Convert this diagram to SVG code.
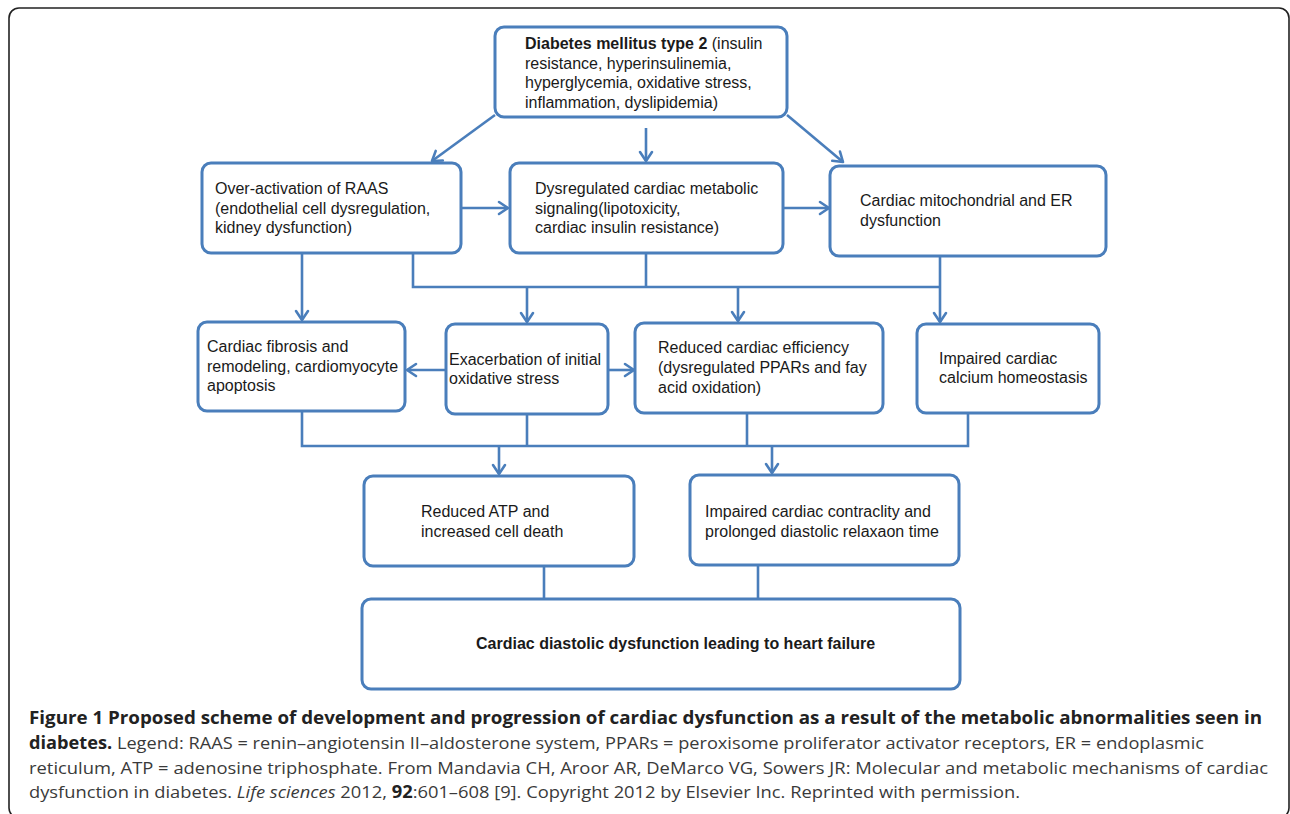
<svg xmlns="http://www.w3.org/2000/svg" width="1290" height="814" viewBox="0 0 1290 814">
<defs>
<style>
.box{fill:#fff;stroke:#4a7ebb;stroke-width:3}
.ln{fill:none;stroke:#4a7ebb;stroke-width:2.6}
.faint{fill:none;stroke:#dde8f5;stroke-width:2.6}
.t{font-family:"Liberation Sans",Arial,sans-serif;font-size:16px;fill:#1a1a1a}
.b{font-weight:bold}
.cap{font-family:"Open Sans","Liberation Sans",sans-serif;font-size:17px;fill:#3a3a3a}
.capb{font-weight:bold;fill:#222}
</style>
<marker id="ah" markerUnits="userSpaceOnUse" viewBox="0 0 16 16" markerWidth="16" markerHeight="16" refX="14" refY="8" orient="auto">
<path d="M5,2 L14,8 L5,14" fill="none" stroke="#4a7ebb" stroke-width="2.6" stroke-linecap="round" stroke-linejoin="round"/>
</marker>
<marker id="ahf" markerUnits="userSpaceOnUse" viewBox="0 0 16 16" markerWidth="16" markerHeight="16" refX="14" refY="8" orient="auto">
<path d="M5,2 L14,8 L5,14" fill="none" stroke="#dde8f5" stroke-width="2.6" stroke-linecap="round" stroke-linejoin="round"/>
</marker>
</defs>
<rect width="1290" height="814" fill="#fff"/>
<rect x="9" y="8" width="1280" height="810" rx="10" fill="none" stroke="#222" stroke-width="1.6"/>

<g id="connectors">
<line class="ln" x1="495" y1="115" x2="432" y2="161" marker-end="url(#ah)"/>
<line class="ln" x1="646" y1="128" x2="646" y2="161" marker-end="url(#ah)"/>
<line class="ln" x1="787" y1="115" x2="843" y2="162" marker-end="url(#ah)"/>
<line class="ln" x1="461" y1="208" x2="508" y2="208" marker-end="url(#ah)"/>
<line class="ln" x1="783" y1="208" x2="829" y2="208" marker-end="url(#ah)"/>
<line class="ln" x1="302" y1="253" x2="302" y2="320" marker-end="url(#ah)"/>
<polyline class="ln" points="413,254 413,287 940,287"/>
<line class="ln" x1="646" y1="253" x2="646" y2="287"/>
<line class="ln" x1="940" y1="256" x2="940" y2="322" marker-end="url(#ah)"/>
<line class="ln" x1="527" y1="287" x2="527" y2="322" marker-end="url(#ah)"/>
<line class="ln" x1="738" y1="287" x2="738" y2="321" marker-end="url(#ah)"/>
<line class="ln" x1="446" y1="370" x2="407" y2="370" marker-end="url(#ah)"/>
<line class="ln" x1="608" y1="370" x2="634" y2="370" marker-end="url(#ah)"/>
<polyline class="ln" points="302,411 302,446 968,446 968,413"/>
<line class="ln" x1="527" y1="414" x2="527" y2="446"/>
<line class="ln" x1="747" y1="413" x2="747" y2="446"/>
<line class="ln" x1="499" y1="446" x2="499" y2="474" marker-end="url(#ah)"/>
<line class="ln" x1="772" y1="446" x2="772" y2="473" marker-end="url(#ah)"/>
<line class="ln" x1="544" y1="566" x2="544" y2="599"/>
<line class="ln" x1="758" y1="565" x2="758" y2="599"/>
<line class="faint" x1="544" y1="601" x2="544" y2="635" marker-end="url(#ahf)"/>
<line class="faint" x1="758" y1="601" x2="758" y2="635" marker-end="url(#ahf)"/>
</g>

<g id="n-diabetes">
<rect class="box" x="495" y="27" width="292" height="90" rx="9"/>
<text class="t" x="525" y="49"><tspan class="b">Diabetes mellitus type 2</tspan> (insulin</text>
<text class="t" x="525" y="69">resistance, hyperinsulinemia,</text>
<text class="t" x="525" y="88">hyperglycemia, oxidative stress,</text>
<text class="t" x="525" y="108">inflammation, dyslipidemia)</text>
</g>

<g id="n-raas">
<rect class="box" x="202" y="163" width="259" height="90" rx="9"/>
<text class="t" x="215" y="194">Over-activation of RAAS</text>
<text class="t" x="215" y="214">(endothelial cell dysregulation,</text>
<text class="t" x="215" y="233">kidney dysfunction)</text>
</g>

<g id="n-metabolic">
<rect class="box" x="510" y="163" width="273" height="90" rx="9"/>
<text class="t" x="535" y="194">Dysregulated cardiac metabolic</text>
<text class="t" x="535" y="214">signaling(lipotoxicity,</text>
<text class="t" x="535" y="233">cardiac insulin resistance)</text>
</g>

<g id="n-mito">
<rect class="box" x="830" y="166" width="276" height="90" rx="9"/>
<text class="t" x="860" y="206">Cardiac mitochondrial and ER</text>
<text class="t" x="860" y="226">dysfunction</text>
</g>

<g id="n-fibrosis">
<rect class="box" x="198" y="322" width="207" height="89" rx="9"/>
<text class="t" x="207" y="352">Cardiac fibrosis and</text>
<text class="t" x="207" y="372">remodeling, cardiomyocyte</text>
<text class="t" x="207" y="391">apoptosis</text>
</g>

<g id="n-oxidative">
<rect class="box" x="446" y="324" width="162" height="90" rx="9"/>
<text class="t" x="449" y="365">Exacerbation of initial</text>
<text class="t" x="449" y="384">oxidative stress</text>
</g>

<g id="n-efficiency">
<rect class="box" x="635" y="323" width="248" height="90" rx="9"/>
<text class="t" x="658" y="353">Reduced cardiac efficiency</text>
<text class="t" x="658" y="373">(dysregulated PPARs and fay</text>
<text class="t" x="658" y="393">acid oxidation)</text>
</g>

<g id="n-calcium">
<rect class="box" x="917" y="324" width="182" height="89" rx="9"/>
<text class="t" x="939" y="364">Impaired cardiac</text>
<text class="t" x="939" y="383">calcium homeostasis</text>
</g>

<g id="n-atp">
<rect class="box" x="364" y="476" width="270" height="90" rx="9"/>
<text class="t" x="421" y="517">Reduced ATP and</text>
<text class="t" x="421" y="537">increased cell death</text>
</g>

<g id="n-contract">
<rect class="box" x="690" y="475" width="269" height="90" rx="9"/>
<text class="t" x="705" y="517">Impaired cardiac contraclity and</text>
<text class="t" x="705" y="537">prolonged diastolic relaxaon time</text>
</g>

<g id="n-failure">
<rect class="box" x="362" y="599" width="598" height="90" rx="9"/>
<text class="t b" x="476" y="649" font-size="15.2">Cardiac diastolic dysfunction leading to heart failure</text>
</g>

<g id="caption">
<text class="cap" x="29" y="724" textLength="1233" lengthAdjust="spacingAndGlyphs"><tspan class="capb">Figure 1 Proposed scheme of development and progression of cardiac dysfunction as a result of the metabolic abnormalities seen in</tspan></text>
<text class="cap" x="29" y="749" textLength="1175" lengthAdjust="spacingAndGlyphs"><tspan class="capb">diabetes.</tspan> Legend: RAAS = renin–angiotensin II–aldosterone system, PPARs = peroxisome proliferator activator receptors, ER = endoplasmic</text>
<text class="cap" x="29" y="774" textLength="1239" lengthAdjust="spacingAndGlyphs">reticulum, ATP = adenosine triphosphate. From Mandavia CH, Aroor AR, DeMarco VG, Sowers JR: Molecular and metabolic mechanisms of cardiac</text>
<text class="cap" x="29" y="798" textLength="991" lengthAdjust="spacingAndGlyphs">dysfunction in diabetes. <tspan font-style="italic">Life sciences</tspan> 2012, <tspan class="capb">92</tspan>:601–608 [9]. Copyright 2012 by Elsevier Inc. Reprinted with permission.</text>
</g>
</svg>
